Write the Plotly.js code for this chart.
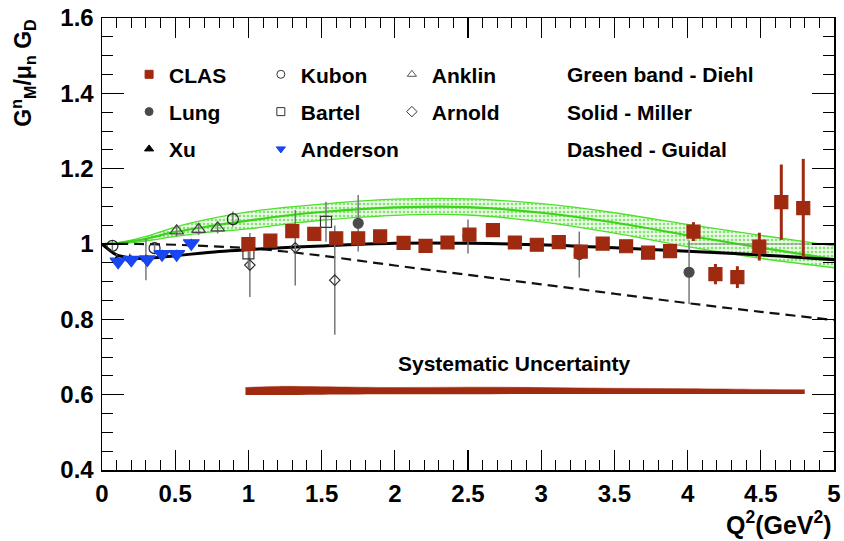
<!DOCTYPE html>
<html><head><meta charset="utf-8">
<script src="https://cdn.plot.ly/plotly-3.0.1.min.js"></script>
<style>html,body{margin:0;padding:0;background:#fff;} #chart{width:844px;height:541px;}</style>
</head><body><div id="chart"></div>
<script>
// ---- data ----
const clasQ2 = [1.00,1.15,1.30,1.45,1.60,1.75,1.90,2.06,2.21,2.36,2.51,2.67,2.82,2.97,3.12,3.27,3.42,3.58,3.73,3.88,4.04,4.19,4.34,4.49,4.64,4.79];
const clasV  = [1.000,1.009,1.034,1.027,1.015,1.015,1.020,1.003,0.995,1.004,1.025,1.037,1.004,0.998,1.005,0.980,1.001,0.994,0.977,0.981,1.033,0.920,0.912,0.993,1.111,1.095];
const clasErr= [0.008,0.008,0.008,0.008,0.008,0.008,0.008,0.008,0.008,0.008,0.008,0.008,0.008,0.009,0.009,0.010,0.012,0.013,0.014,0.014,0.025,0.027,0.029,0.037,0.100,0.131];

const lungQ2 = [1.75,2.50,3.26,4.01];
const lungV  = [1.055,1.020,0.972,0.925];
const lungErr= [0.075,0.045,0.061,0.084];

const xuQ2 = [0.10,0.19,0.30];
const xuV  = [0.958,0.960,0.960];
const xuErr= [0.015,0.015,0.056];

const kubonQ2 = [0.071,0.359,0.894];
const kubonV  = [0.995,0.989,1.066];
const kubonErr= [0.015,0.015,0.020];

const bartelQ2 = [1.00,1.53];
const bartelV  = [0.975,1.059];
const bartelErr= [0.040,0.053];

const andersonQ2 = [0.11,0.20,0.31,0.41,0.51,0.61];
const andersonV  = [0.953,0.958,0.959,0.973,0.973,1.002];
const andersonErr= [0.012,0.012,0.012,0.012,0.012,0.012];

const anklinQ2 = [0.51,0.66,0.79];
const anklinV  = [1.035,1.039,1.043];
const anklinErr= [0.015,0.015,0.015];

const arnoldQ2 = [1.01,1.32,1.59];
const arnoldV  = [0.944,0.990,0.904];
const arnoldErr= [0.085,0.100,0.145];

const diehlQ2  = [0,0.1,0.2,0.3,0.5,0.75,1.0,1.25,1.5,2.0,2.5,3.0,3.5,4.0,4.5,5.0];
const diehlMid = [1.0,1.002,1.007,1.014,1.032,1.048,1.062,1.075,1.085,1.097,1.098,1.083,1.057,1.023,0.990,0.960];
const diehlHi  = [1.0,1.003,1.010,1.020,1.045,1.068,1.085,1.097,1.106,1.119,1.120,1.107,1.083,1.052,1.023,0.995];
const diehlLo  = [1.0,1.001,1.004,1.008,1.020,1.032,1.040,1.053,1.063,1.076,1.077,1.059,1.029,0.993,0.962,0.937];

const millerQ2 = [0,0.05,0.1,0.2,0.3,0.5,0.8,1.0,1.5,2.0,2.5,3.0,3.5,4.0,4.5,5.0];
const millerV  = [1.0,0.984,0.971,0.963,0.962,0.969,0.980,0.985,0.995,1.002,1.002,0.998,0.990,0.981,0.971,0.958];

const guidalQ2 = [0,0.25,0.5,0.75,1.0,1.25,1.5,2.0,2.5,3.0,3.5,4.0,4.5,5.0];
const guidalV  = [1.0,1.0,0.998,0.994,0.989,0.980,0.969,0.943,0.918,0.893,0.868,0.843,0.820,0.798];

const sysQ2 = [0.98,1.2,1.5,2.0,2.5,3.0,3.5,4.0,4.5,4.8];
const sysHi = [0.619,0.622,0.621,0.619,0.620,0.619,0.617,0.616,0.614,0.613];
const sysLo = [0.599,0.599,0.600,0.601,0.601,0.602,0.602,0.602,0.602,0.602];

const refQ2 = [4.0,5.0];
const refV  = [1.0,1.0];

const xTickVals = [0,0.5,1,1.5,2,2.5,3,3.5,4,4.5,5];
const yTickVals = [0.4,0.6,0.8,1,1.2,1.4,1.6];

// ---- styling ----
const FONT = 'Liberation Sans, Arial, Helvetica, sans-serif';
const RED = '#9f2a10';
const GRAY = '#777777';
const GREEN = '#4ee02c';

const traces = [];
traces.push({x:diehlQ2, y:diehlLo, mode:'lines', line:{color:GREEN, width:1.3, shape:'spline'}, showlegend:false, hoverinfo:'skip'});
traces.push({x:diehlQ2, y:diehlHi, mode:'lines', line:{color:GREEN, width:1.3, shape:'spline'}, fill:'tonexty',
  fillcolor:'rgba(200,245,190,0.45)', fillpattern:{shape:'.', fgcolor:'rgba(110,220,90,0.8)', bgcolor:'rgba(215,248,205,0.5)', size:4, solidity:0.35},
  showlegend:false, hoverinfo:'skip'});
traces.push({x:diehlQ2, y:diehlMid, mode:'lines', line:{color:'#3ad418', width:2.2, shape:'spline'}, showlegend:false, hoverinfo:'skip'});
traces.push({x:guidalQ2, y:guidalV, mode:'lines', line:{color:'#111', width:2.2, dash:'10px,6px', shape:'spline'}, showlegend:false});
traces.push({x:millerQ2, y:millerV, mode:'lines', line:{color:'#000', width:3, shape:'spline'}, showlegend:false});
traces.push({x:refQ2, y:refV, mode:'lines', line:{color:'#888', width:1}, showlegend:false});

function pts(x, y, e, sym, size, col, lineCol, ecol, eth){
  return {x:x, y:y, mode:'markers', showlegend:false,
    marker:{symbol:sym, size:size, color:col, line:{color:lineCol, width:1.2}},
    error_y:{type:'data', array:e, visible:true, color:ecol, thickness:eth, width:0}};
}
traces.push(pts(arnoldQ2, arnoldV, arnoldErr, 'diamond-open', 8, '#333', '#333', GRAY, 1.5));
traces.push(pts(bartelQ2, bartelV, bartelErr, 'square-open', 11, '#333', '#333', GRAY, 1.5));
traces.push(pts(kubonQ2, kubonV, kubonErr, 'circle-open', 11, '#222', '#222', GRAY, 1.5));
traces.push(pts(anklinQ2, anklinV, anklinErr, 'triangle-up-open', 12, '#444', '#444', GRAY, 1.5));
traces.push(pts(xuQ2, xuV, xuErr, 'triangle-up', 7, '#000', '#000', GRAY, 1.5));
traces.push(pts(lungQ2, lungV, lungErr, 'circle', 10, '#4a4a4a', '#4a4a4a', GRAY, 1.5));
traces.push(pts(andersonQ2, andersonV, andersonErr, 'triangle-down', 14, '#1846f0', '#1846f0', '#1846f0', 1.5));
traces.push(pts(clasQ2, clasV, clasErr, 'square', 13, RED, RED, RED, 3));
traces.push({x:sysQ2, y:sysLo, mode:'lines', line:{color:RED, width:0, shape:'spline'}, showlegend:false, hoverinfo:'skip'});
traces.push({x:sysQ2, y:sysHi, mode:'lines', line:{color:RED, width:0.5, shape:'spline'}, fill:'tonexty', fillcolor:RED, showlegend:false, hoverinfo:'skip'});

// legend-only entries (no data)
function leg(name, sym, col, legendId, grp){
  return {x:[null], y:[null], mode:'markers', name:name, legend:legendId, legendgroup:grp,
    marker:{symbol:sym, size:8, color:col, line:{color:col, width:1}}, hoverinfo:'skip'};
}
traces.push(leg('CLAS','square',RED,'legend','a1'));
traces.push(leg('Lung','circle','#4a4a4a','legend','a2'));
traces.push(leg('Xu','triangle-up','#000','legend','a3'));
traces.push(leg('Kubon','circle-open','#333','legend2','b1'));
traces.push(leg('Bartel','square-open','#333','legend2','b2'));
traces.push(leg('Anderson','triangle-down','#1846f0','legend2','b3'));
traces.push(leg('Anklin','triangle-up-open','#555','legend3','c1'));
traces.push(leg('Arnold','diamond-open','#333','legend3','c2'));

const legFont = {family:FONT, size:21, weight:'bold', color:'#000'};
function legendAt(x){
  return {x:x, y:0.92, xanchor:'left', yanchor:'top', bgcolor:'rgba(0,0,0,0)', borderwidth:0,
    font:legFont, traceorder:'grouped', tracegroupgap:7, itemclick:false, itemdoubleclick:false};
}

const axFont = {family:FONT, size:24, weight:'bold', color:'#000'};
const layout = {
  width:844, height:541,
  margin:{l:102, r:10, t:18, b:71},
  paper_bgcolor:'#fff', plot_bgcolor:'#fff',
  showlegend:true,
  legend:legendAt(0.037), legend2:legendAt(0.217), legend3:legendAt(0.396),
  xaxis:{range:[0,5], tickvals:xTickVals, ticks:'inside', ticklen:20, tickwidth:1.2, tickcolor:'#000',
    minor:{dtick:0.1, tick0:0, ticks:'inside', ticklen:10, tickwidth:1, tickcolor:'#000'},
    showline:true, linecolor:'#000', linewidth:1.5, mirror:'allticks', showgrid:false, zeroline:false,
    tickfont:axFont, ticklabelstandoff:2},
  yaxis:{range:[0.4,1.6], tickvals:yTickVals, ticks:'inside', ticklen:22, tickwidth:1.2, tickcolor:'#000',
    minor:{dtick:0.05, tick0:0.4, ticks:'inside', ticklen:11, tickwidth:1, tickcolor:'#000'},
    showline:true, linecolor:'#000', linewidth:1.5, mirror:'allticks', showgrid:false, zeroline:false,
    tickfont:axFont, ticklabelstandoff:2},
  annotations:[
    {xref:'paper', yref:'paper', x:0.632, y:0.874, xanchor:'left', yanchor:'middle', showarrow:false, text:'Green band - Diehl', font:legFont},
    {xref:'paper', yref:'paper', x:0.632, y:0.792, xanchor:'left', yanchor:'middle', showarrow:false, text:'Solid - Miller', font:legFont},
    {xref:'paper', yref:'paper', x:0.632, y:0.708, xanchor:'left', yanchor:'middle', showarrow:false, text:'Dashed - Guidal', font:legFont},
    {xref:'x', yref:'y', x:2.82, y:0.684, xanchor:'center', yanchor:'middle', showarrow:false, text:'Systematic Uncertainty', font:legFont},
    {xref:'paper', yref:'paper', x:-0.109, y:1.0, xanchor:'center', yanchor:'top', textangle:-90, showarrow:false,
      text:'G<sup>n</sup><sub>M</sub>/μ<sub>n</sub> G<sub>D</sub>', font:{family:FONT, size:23, weight:'bold', color:'#000'}},
    {xref:'paper', yref:'paper', x:1.0, y:-0.117, xanchor:'right', yanchor:'middle', showarrow:false,
      text:'Q<sup>2</sup>(GeV<sup>2</sup>)', font:{family:FONT, size:25, weight:'bold', color:'#000'}}
  ]
};
Plotly.newPlot('chart', traces, layout, {staticPlot:true, displayModeBar:false});
</script></body></html>
